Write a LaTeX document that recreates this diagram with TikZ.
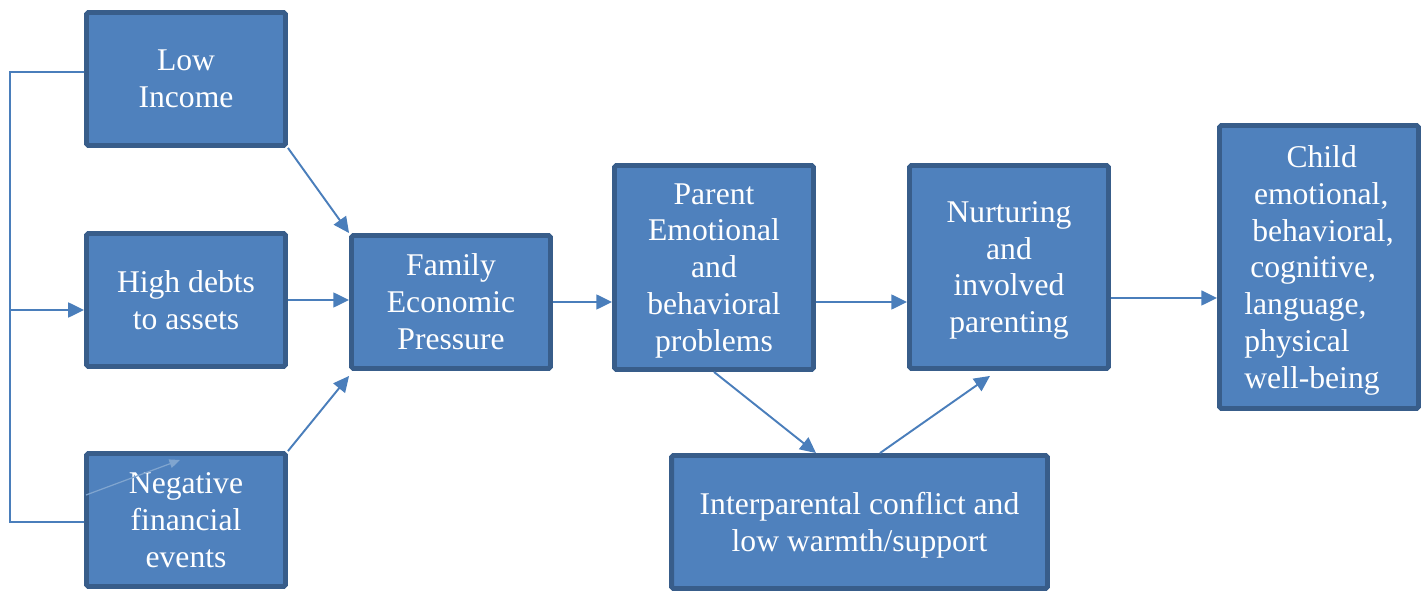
\documentclass[tikz,border=0pt]{standalone}
\usepackage{fontspec}
\setmainfont{Liberation Serif}
\usetikzlibrary{arrows.meta}
\definecolor{boxfill}{HTML}{4F81BD}
\definecolor{boxline}{HTML}{385D8A}
\definecolor{arrowblue}{HTML}{4A7EBB}
\tikzset{
  factor/.style={draw=boxline,fill=boxfill,line width=2.8pt,rounded corners=1pt,
    text=white,align=center,inner sep=0pt,font=\fontsize{18}{21}\selectfont,
    minimum width=3.98cm,minimum height=2.66cm},
  link/.style={arrowblue,line width=1.1pt,-{Triangle[length=9pt,width=8.5pt]}},
  bracket/.style={arrowblue,line width=1.1pt}
}
\begin{document}
\begin{tikzpicture}[x=0.02cm,y=-0.02cm]
	\useasboundingbox (0,0) rectangle (1427,591);

	% causes
	\node[factor] (income) at (186,79) {Low\\Income};
	\node[factor] (debts) at (186,300) {High debts\\to assets};
	\node[factor,text depth=-3.4pt] (negative) at (186,520) {Negative\\financial\\events};

	% pathway
	\node[factor] (pressure) at (451,302) {Family\\Economic\\Pressure};
	\node[factor,minimum height=4.08cm,text depth=-2.3pt] (parent) at (714,267.5) {Parent\\Emotional\\and\\behavioral\\problems};
	\node[factor,minimum height=4.06cm,text depth=-1.8pt] (nurture) at (1009,267) {Nurturing\\and\\involved\\parenting};
	\node[factor,minimum height=5.66cm,align=left,text depth=-2.3pt] (child) at (1319,267)
		{\hspace*{24pt}Child\\\hspace*{5.5pt}emotional,\\\hspace*{4.5pt}behavioral,\\\hspace*{3.4pt}cognitive,\\language,\\physical\\well-being};
	\node[factor,minimum width=7.52cm,text depth=-1.8pt] (conflict) at (859.5,522) {Interparental conflict and\\low warmth/support};

	% left bracket
	\coordinate (brtop) at (10,72);
	\coordinate (brmid) at (10,310);
	\coordinate (brbot) at (10,522);
	\draw[bracket] ([yshift=0.14cm]income.west) -- (brtop) -- (brbot) -- (negative.west |- brbot);
	\draw[link] (brmid) -- (debts.west |- brmid);

	% arrows
	\draw[link] (income.south east) -- (pressure.north west);
	\draw[link] (debts.east) -- (pressure.west |- debts.east);
	\draw[link] (negative.north east) -- ([yshift=-0.1cm]pressure.south west);
	\draw[link] (pressure.east) -- (pressure.east -| parent.west);
	\draw[link] (parent.east |- pressure.east) -- (nurture.west |- pressure.east);
	\draw[link] (parent.south) -- ([xshift=-0.87cm]conflict.north);
	\draw[link] ([xshift=0.41cm]conflict.north) -- ([xshift=-0.38cm,yshift=-0.1cm]nurture.south);
	\draw[link] ([yshift=-0.62cm]nurture.east) -- ([yshift=-0.62cm]nurture.east -| child.west);

	% stray arrow over the box
	\coordinate (straytail) at (86,495);
	\coordinate (strayhead) at (180,460);
	\draw[arrowblue!70!white,line width=0.7pt,-{Triangle[length=6pt,width=5pt]}] (straytail) -- (strayhead);
\end{tikzpicture}
\end{document}
